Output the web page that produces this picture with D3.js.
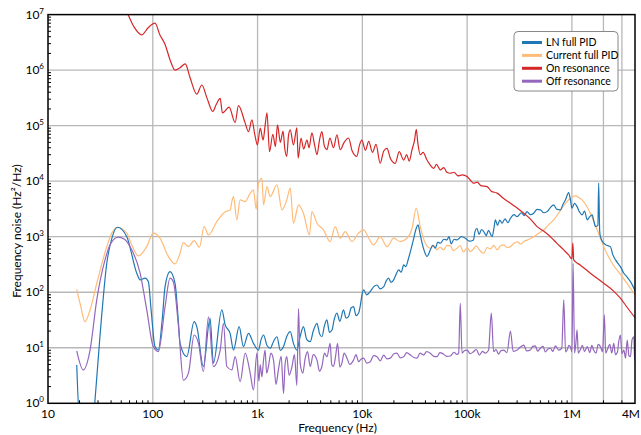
<!DOCTYPE html>
<html>
<head>
<meta charset="utf-8">
<script src="https://cdn.jsdelivr.net/npm/d3@7"></script>
<style>
  body { margin: 0; background: #fff; }
  svg { font-family: Lato, "Open Sans", sans-serif; }
</style>
</head>
<body>
<div class="canvas"></div>
<script>
// tick labels
const xTicks = [10, 100, 1e3, 1e4, 1e5, 1e6, 4e6];
const xTickLabels = ['10', '100', '1k', '10k', '100k', '1M', '4M'];
const xGrid = [100, 1e3, 1e4, 1e5, 1e6, 2e6, 3e6];
const yTicks = [1, 10, 100, 1e3, 1e4, 1e5, 1e6, 1e7];
const yExps = ['0', '1', '2', '3', '4', '5', '6', '7'];

// series
const names = ['LN full PID', 'Current full PID', 'On resonance', 'Off resonance'];
const colors = ['#1f77b4', '#ffbb78', '#d62728', '#9467bd'];

const lnFreq = [18.8, 20.5, 26.5, 28.1, 31.4, 36.4, 40.8, 45.9, 56.5, 70.3, 75.7, 84.4, 90.8, 96.4, 105, 113, 123, 131, 146, 163, 175, 182, 211, 248, 263, 304, 352, 379, 456, 491, 547, 589, 667, 733, 819, 914,
  1020, 1080, 1140, 1230, 1320, 1420, 1530, 1650, 1770, 1900, 2050, 2200, 2370, 2550, 2740, 2950, 3180, 3400, 3690, 3900, 4110, 4350, 4590, 4850, 5130, 5400, 5720, 6100, 6610, 7000, 7380, 7800, 8240, 8700, 9200, 9600, 9910,
  10300, 11000, 11900, 12800, 13800, 14800, 16000, 16900, 17800, 18800, 19900, 21000, 22200, 23500, 24800, 26000, 27600, 30400, 32700, 34000, 35700, 37900, 39500, 41400, 44500, 47000, 49700, 52500, 55500, 60000, 64300, 67000, 70600, 75000, 80000, 88000, 96100,
  105000, 115000, 119000, 124000, 130000, 137000, 144000, 152000, 160000, 173000, 180000, 186000, 195000, 205000, 215000, 230000, 245000, 259000, 280000, 300000, 330000, 350000, 373000, 400000, 432000, 465000, 500000, 540000, 579000, 620000, 670000, 720000, 777000, 820000, 867000, 931000, 970000,
  1.0e6, 1.06e6, 1.12e6, 1.18e6, 1.25e6, 1.32e6, 1.4e6, 1.48e6, 1.56e6, 1.62e6, 1.68e6, 1.77e6, 1.8e6, 1.84e6, 1.87e6, 2.01e6, 2.15e6, 2.33e6, 2.45e6, 2.61e6, 2.75e6, 2.9e6, 3.13e6, 3.35e6, 3.62e6, 3.85e6, 4.04e6];
const lnVal = [4.9, 0.25, 0.25, 1.15, 17, 333, 950, 1480, 1000, 220, 167, 179, 155, 48, 10.5, 9.1, 32, 126, 235, 145, 32, 12, 6.9, 29.5, 24, 4.6, 34, 5.3, 48, 25.8, 18.2, 9.1, 24, 10.5, 18.2, 12,
  9.1, 14, 17, 11, 9.8, 13, 15.8, 9, 10.5, 16, 19.5, 12, 9.1, 16, 24, 14, 12.9, 20, 27.6, 18, 15.8, 25, 31.7, 19, 20.9, 33, 41.9, 30, 48, 34, 36.3, 52, 55, 38, 41.9, 60, 89,
  110, 90, 103, 125, 135, 115, 126, 160, 179, 150, 167, 210, 252, 230, 310, 290, 410, 817, 1420, 1630, 1080, 663, 520, 438, 578, 700, 620, 800, 763, 900, 875, 1000, 742, 900, 875, 1000, 940,
  830, 875, 1250, 1420, 1100, 1350, 1240, 1050, 1300, 1000, 1400, 2010, 1600, 2000, 1750, 2100, 1800, 2150, 2500, 2300, 2700, 2400, 2830, 2500, 2650, 3100, 3040, 2700, 2830, 3300, 3740, 3100, 3040, 3800, 4600, 6240, 4500,
  3260, 4000, 3480, 2800, 2470, 2900, 2010, 2300, 2470, 1900, 1520, 1600, 9200, 1300, 1000, 763, 700, 663, 480, 382, 330, 289, 220, 190, 155, 125, 103];

const curFreq = [18.8, 20.4, 22.5, 25.2, 29.2, 36.4, 40.6, 45.9, 56.5, 63, 72.8, 87.6, 101, 117, 141, 163, 182, 196, 219, 248, 279, 309, 340, 408, 491, 547, 568, 589, 634, 682, 762, 850, 914, 970,
  1020, 1100, 1140, 1230, 1320, 1530, 1710, 1900, 2050, 2200, 2460, 2740, 3130, 3300, 3690, 4260, 4930, 5500, 6150, 6870, 7960, 9200,
  10300, 11500, 12800, 14800, 17200, 19900, 23000, 26700, 29800, 32700, 35700, 39900, 44500, 48000, 51600, 55000, 59700, 64000, 69100, 74000, 80100, 86000, 92000,
  100000, 107000, 115000, 122000, 133000, 144000, 155000, 167000, 180000, 193000, 207000, 222000, 240000, 259000, 280000, 302000, 325000, 347000, 390000, 432000, 480000, 538000, 600000, 670000, 740000, 805000, 880000, 968000,
  1.08e6, 1.16e6, 1.25e6, 1.5e6, 1.74e6, 2.01e6, 2.42e6, 3.02e6, 3.62e6, 4.04e6];
const curVal = [113, 59, 29.5, 48, 145, 663, 1160, 1480, 1160, 711, 451, 663, 1160, 940, 438, 323, 504, 783, 663, 850, 647, 1520, 1080, 1870, 2830, 3040, 4290, 5280, 2010, 4600, 4290, 6080, 6970, 3130,
  9200, 11300, 3740, 8000, 5280, 8570, 3040, 4600, 7480, 1750, 3740, 2650, 1080, 2830, 1750, 1330, 817, 1520, 940, 1240, 817, 1160,
  1330, 940, 711, 1000, 663, 940, 817, 940, 1420, 3260, 1520, 763, 620, 700, 578, 650, 578, 700, 683, 560, 620, 690, 532,
  640, 539, 600, 683, 560, 504, 640, 603, 700, 578, 680, 711, 640, 663, 760, 806, 740, 817, 900, 1000, 1150, 1330, 1650, 2010, 2600, 3260, 4100, 4940,
  5430, 5100, 4600, 2650, 1330, 663, 333, 191, 118, 89];

const onFreq = [50, 58, 66.2, 78.5, 90.2, 105, 117, 131, 146, 163, 182, 204, 227, 263, 294, 328, 374, 403, 440, 462, 535, 611, 657, 762, 819, 883, 940, 998,
  1060, 1130, 1180, 1230, 1300, 1400, 1480, 1550, 1650, 1750, 1820, 1900, 1970, 2050, 2200, 2370, 2440, 2600, 2750, 2960, 3100, 3300, 3500, 3690, 3900, 4110, 4350, 4590, 4900, 5300, 5720, 6150, 6700, 7380, 8000, 8870, 9400, 9900,
  10700, 11500, 12500, 13500, 14800, 16000, 17200, 18500, 20600, 22500, 24800, 26500, 28000, 29800, 31500, 32700, 33800, 35700, 38000, 41400, 44000, 47900, 51000, 55500, 60000, 64000, 69100, 75000, 82000, 90000, 99800,
  107000, 115000, 125000, 135000, 155000, 170000, 193000, 220000, 259000, 300000, 347000, 400000, 465000, 540000, 623000, 720000, 836000, 930000,
  1.0e6, 1.02e6, 1.04e6, 1.2e6, 1.5e6, 2.01e6, 2.5e6, 2.9e6, 3.4e6, 4.04e6];
const onVal = [1.7e7, 1.0e7, 6.0e6, 4.3e6, 5.8e6, 7.0e6, 4.3e6, 2.9e6, 1.54e6, 1.0e6, 1.1e6, 1.3e6, 7.3e5, 3.7e5, 5.4e5, 3.2e5, 1.8e5, 2.4e5, 3.1e5, 1.7e5, 2.15e5, 1.14e5, 2.3e5, 1.11e5, 7.8e4, 1.27e5, 7.0e4, 4.5e4,
  9.0e4, 5.5e4, 1.0e5, 1.7e5, 3.4e4, 7.0e4, 4.2e4, 1.03e5, 5.0e4, 8.0e4, 3.8e4, 2.8e4, 6.5e4, 8.4e4, 4.5e4, 9.1e4, 2.6e4, 6.0e4, 3.8e4, 5.5e4, 4.0e4, 7.4e4, 4.5e4, 3.0e4, 5.5e4, 7.8e4, 4.2e4, 3.7e4, 6.0e4, 4.0e4, 6.8e4, 3.7e4, 5.0e4, 6.0e4, 3.5e4, 2.8e4, 4.5e4, 5.5e4,
  3.6e4, 5.2e4, 3.3e4, 4.6e4, 2.1e4, 3.5e4, 3.9e4, 2.6e4, 2.1e4, 3.4e4, 2.4e4, 3.0e4, 2.3e4, 3.7e4, 5.5e4, 8.6e4, 5.0e4, 3.0e4, 3.3e4, 2.4e4, 2.0e4, 1.7e4, 2.0e4, 1.6e4, 1.75e4, 1.45e4, 1.39e4, 1.45e4, 1.25e4, 1.3e4, 1.21e4,
  1.05e4, 9.2e3, 9.6e3, 8.3e3, 8.0e3, 6.6e3, 6.1e3, 5.0e3, 4.0e3, 3.3e3, 2.65e3, 2.1e3, 1.52e3, 1.25e3, 1.0e3, 760, 578, 470,
  400, 770, 382, 310, 220, 145, 105, 78, 52, 34];

const offFreq = [18.8, 21.7, 25.2, 29.2, 35, 40, 46.9, 53.2, 60.7, 75.7, 87.6, 101, 113, 131, 146, 157, 176, 196, 219, 248, 273, 304, 340, 379, 440, 472, 509, 568, 611, 682, 762, 850, 914, 985,
  1030, 1060, 1100, 1140, 1180, 1220, 1270, 1340, 1420, 1500, 1580, 1680, 1770, 1830, 1900, 2000, 2130, 2250, 2370, 2460, 2550, 2700, 2850, 3000, 3180, 3400, 3690, 3900, 4110, 4350, 4590, 4930, 5100, 5310, 5550, 5800, 6100, 6380, 6700, 7130, 7600, 8240, 8700, 9200, 9700,
  10300, 11000, 11900, 12800, 13800, 14800, 16000, 17200, 18500, 20000, 21400, 23000, 24800, 26500, 28700, 31000, 33200, 35500, 38400, 41000, 44500, 48000, 51600, 55000, 59300, 64000, 69100, 75000, 80000, 83000, 86000, 89400, 94000,
  100000, 107000, 115000, 122000, 131000, 140000, 149000, 160000, 170000, 179000, 189000, 199000, 210000, 223000, 240000, 259000, 275000, 300000, 320000, 347000, 370000, 402000, 420000, 448000, 470000, 500000, 530000, 558000, 590000, 623000, 660000, 695000, 748000, 800000, 836000, 870000, 900000, 935000, 968000,
  1.0e6, 1.026e6, 1.06e6, 1.09e6, 1.12e6, 1.15e6, 1.17e6, 1.2e6, 1.26e6, 1.32e6, 1.4e6, 1.48e6, 1.55e6, 1.61e6, 1.7e6, 1.78e6, 1.87e6, 1.96e6, 2.04e6, 2.1e6, 2.17e6, 2.3e6, 2.4e6, 2.51e6, 2.6e6, 2.72e6, 2.8e6, 2.9e6, 3.0e6, 3.13e6, 3.25e6, 3.37e6, 3.5e6, 3.62e6, 3.75e6, 3.9e6, 3.97e6, 4.04e6];
const offVal = [8.8, 4.0, 9.1, 73, 382, 773, 980, 912, 663, 220, 48, 10.5, 8.5, 55, 179, 155, 24, 2.6, 3.5, 17, 12, 3.7, 36, 4.6, 9.1, 27.6, 4.6, 4.0, 6.9, 2.45, 8.0, 3.5, 1.74, 8.0,
  2.5, 5, 3.0, 6, 9.1, 3.5, 4.6, 8, 6.0, 2.2, 4.0, 7, 1.5, 5, 6.9, 3.2, 4.6, 7.5, 2.1, 51, 5.3, 3.5, 6.5, 8.5, 4.6, 7.5, 6.0, 3.8, 4.6, 8, 6.9, 12, 5, 4.6, 7, 12, 4.5, 5.3, 8, 6.5, 5, 6.0, 7.5, 5.6, 6.2,
  6.5, 5.3, 5.6, 7.2, 6.9, 5.8, 7.4, 6.3, 6.5, 7.8, 8.0, 6.6, 6.9, 8.2, 7.4, 6.7, 6.5, 8.0, 7.4, 8.5, 8.0, 7.0, 6.9, 8.2, 7.7, 7.0, 7.1, 8.3, 7.6, 8.0, 63, 8.0, 8.8,
  9.1, 7.8, 8.5, 9.3, 7.4, 8.6, 8.0, 9.0, 42, 8.5, 9.3, 7.7, 8.8, 9.1, 8.2, 20, 8.6, 9.1, 10.2, 11.2, 8.8, 9.1, 10.5, 10.8, 8.7, 9.8, 10.6, 8.4, 9.5, 9.8, 8.6, 10.8, 9.1, 9.8, 73, 8.4, 9.1, 11, 10.3,
  8.5, 333, 8.0, 12, 21, 8.0, 8.4, 9.1, 11, 8.5, 10.5, 8.2, 11, 9.1, 8.0, 11.5, 10.5, 8.5, 39, 8.0, 9.1, 11.5, 8.0, 12, 7.5, 8.4, 13, 17, 7.8, 9.1, 6.5, 13.8, 7.2, 6.9, 14, 15.8, 6.0, 6.9];

const seriesFreq = [lnFreq, curFreq, onFreq, offFreq];
const seriesVal = [lnVal, curVal, onVal, offVal];
const drawOrder = [1, 0, 2, 3];

const width = 641, height = 435;
const margin = { top: 14.6, right: 6, bottom: 31.7, left: 48 };
const graphWidth = width - margin.left - margin.right;
const graphHeight = height - margin.top - margin.bottom;

const svg = d3.select('.canvas')
  .append('svg')
  .attr('width', width)
  .attr('height', height);

const graph = svg.append('g')
  .attr('transform', `translate(${margin.left}, ${margin.top})`);

const x = d3.scaleLog().domain([10, 4e6]).range([0, graphWidth]);
const y = d3.scaleLog().domain([1, 1e7]).range([graphHeight, 0]);

// grid
graph.append('g').selectAll('line')
  .data(yTicks.slice(1, -1))
  .enter().append('line')
  .attr('x1', 0).attr('x2', graphWidth)
  .attr('y1', d => y(d)).attr('y2', d => y(d))
  .attr('stroke', '#b8b8b8').attr('stroke-width', 1.3);

graph.append('g').selectAll('line')
  .data(xGrid)
  .enter().append('line')
  .attr('y1', 0).attr('y2', graphHeight)
  .attr('x1', d => x(d)).attr('x2', d => x(d))
  .attr('stroke', '#b8b8b8').attr('stroke-width', 1.3);

// curves
svg.append('defs').append('clipPath').attr('id', 'clip')
  .append('rect').attr('width', graphWidth).attr('height', graphHeight);

const line = d3.line()
  .x(d => x(d[0]))
  .y(d => y(d[1]))
  .curve(d3.curveMonotoneX);

const lines = graph.append('g').attr('clip-path', 'url(#clip)');
drawOrder.forEach(i => {
  const pts = seriesFreq[i].map((f, k) => [f, seriesVal[i][k]]);
  lines.append('path')
    .datum(pts)
    .attr('d', line)
    .attr('fill', 'none')
    .attr('stroke', colors[i])
    .attr('stroke-width', 1.2)
    .attr('stroke-linejoin', 'round');
});

// minor ticks
const xMinor = [];
for (let d = 10; d < 4e6; d *= 10) {
  for (let k = 2; k <= 9; k++) if (d * k < 4e6) xMinor.push(d * k);
}
const yMinor = [];
for (let d = 1; d < 1e7; d *= 10) {
  for (let k = 2; k <= 9; k++) yMinor.push(d * k);
}
graph.append('g').selectAll('line')
  .data(xMinor).enter().append('line')
  .attr('x1', d => x(d)).attr('x2', d => x(d))
  .attr('y1', graphHeight).attr('y2', graphHeight - 3)
  .attr('stroke', '#000').attr('stroke-width', 1);
graph.append('g').selectAll('line')
  .data(yMinor).enter().append('line')
  .attr('y1', d => y(d)).attr('y2', d => y(d))
  .attr('x1', 0).attr('x2', 3)
  .attr('stroke', '#000').attr('stroke-width', 1);

// frame
graph.append('rect')
  .attr('width', graphWidth).attr('height', graphHeight)
  .attr('fill', 'none').attr('stroke', '#000').attr('stroke-width', 1.5);

// x tick labels (last one kept inside the page)
graph.append('g').selectAll('text')
  .data(xTicks).enter().append('text')
  .attr('x', (d, i) => i === xTicks.length - 1 ? graphWidth + 5 : x(d))
  .attr('y', graphHeight + 15)
  .attr('text-anchor', (d, i) => i === xTicks.length - 1 ? 'end' : 'middle')
  .attr('font-size', 12)
  .text((d, i) => xTickLabels[i]);

// y tick labels
const yl = graph.append('g').selectAll('text')
  .data(yTicks).enter().append('text')
  .attr('x', -4)
  .attr('y', d => y(d) + 4)
  .attr('text-anchor', 'end')
  .attr('font-size', 12);
yl.append('tspan').text('10');
yl.append('tspan').attr('dy', -5).attr('font-size', 8).text((d, i) => yExps[i]);

// axis titles
svg.append('text')
  .attr('x', margin.left + graphWidth / 2 - 4)
  .attr('y', 432)
  .attr('text-anchor', 'middle')
  .attr('font-size', 12)
  .text('Frequency (Hz)');

svg.append('text')
  .attr('transform', `translate(21, 231) rotate(-90)`)
  .attr('text-anchor', 'middle')
  .attr('font-size', 12)
  .text('Frequency noise (Hz\u00B2/Hz)');

// legend
const legend = svg.append('g').attr('transform', 'translate(514, 31.5)');
legend.append('rect')
  .attr('width', 104).attr('height', 59.5)
  .attr('rx', 4).attr('ry', 4)
  .attr('fill', '#fff').attr('stroke', '#888').attr('stroke-width', 1);
names.forEach((n, i) => {
  const ly = 11 + i * 12.9;
  legend.append('line')
    .attr('x1', 8).attr('x2', 28)
    .attr('y1', ly).attr('y2', ly)
    .attr('stroke', colors[i]).attr('stroke-width', 3);
  legend.append('text')
    .attr('x', 32).attr('y', ly + 3.5)
    .attr('font-size', 10.5)
    .text(n);
});
</script>
</body>
</html>
